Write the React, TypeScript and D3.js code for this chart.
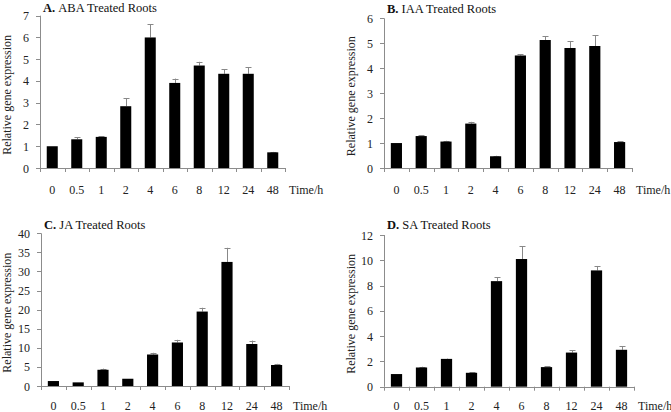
import React, { useEffect, useRef } from 'react';
import * as d3 from 'd3';

// time points (hours)
const times = ['0', '0.5', '1', '2', '4', '6', '8', '12', '24', '48'];

// A. ABA
const abaMean = [1.0, 1.32, 1.43, 2.84, 6.0, 3.91, 4.71, 4.33, 4.33, 0.72];
const abaErr = [0.0, 0.1, 0.04, 0.36, 0.6, 0.2, 0.17, 0.2, 0.3, 0.02];

// B. IAA
const iaaMean = [1.0, 1.28, 1.06, 1.78, 0.47, 4.51, 5.13, 4.81, 4.89, 1.04];
const iaaErr = [0.0, 0.04, 0.03, 0.07, 0.02, 0.04, 0.15, 0.27, 0.43, 0.03];

// C. JA
const jaMean = [1.3, 0.95, 4.25, 1.9, 8.25, 11.4, 19.5, 32.5, 11.0, 5.5];
const jaErr = [0.0, 0.0, 0.3, 0.0, 0.45, 0.7, 1.0, 3.7, 0.9, 0.3];

// D. SA
const saMean = [1.0, 1.52, 2.2, 1.1, 8.35, 10.1, 1.55, 2.7, 9.2, 2.92];
const saErr = [0.0, 0.06, 0.03, 0.06, 0.3, 1.0, 0.06, 0.18, 0.35, 0.3];

const panels = [
  { letter: 'A.', name: 'ABA Treated Roots', mean: abaMean, err: abaErr, yMax: 7, step: 1,
    left: 40, right: 285, top: 15.7, bottom: 168, titleY: 12, labelY: 194, ylabX: 7 },
  { letter: 'B.', name: 'IAA Treated Roots', mean: iaaMean, err: iaaErr, yMax: 6, step: 1,
    left: 384, right: 632, top: 18.3, bottom: 168, titleY: 13, labelY: 194, ylabX: 351 },
  { letter: 'C.', name: 'JA Treated Roots', mean: jaMean, err: jaErr, yMax: 40, step: 5,
    left: 41, right: 289, top: 233.3, bottom: 386, titleY: 229, labelY: 410, ylabX: 7 },
  { letter: 'D.', name: 'SA Treated Roots', mean: saMean, err: saErr, yMax: 12, step: 2,
    left: 384, right: 634, top: 235, bottom: 386.7, titleY: 229, labelY: 410, ylabX: 351 },
];

const font = 'Times New Roman, Liberation Serif, DejaVu Serif, serif';
const axisColor = '#8c8c8c';

function App() {
  const ref = useRef<SVGSVGElement>(null);

  useEffect(() => {
    const svg = d3.select(ref.current);
    svg.selectAll('*').remove();

    panels.forEach((p) => {
      const g = svg.append('g').style('font-family', font);
      const x = d3.scaleBand().domain(times).range([p.left, p.right]).paddingInner(0.55).paddingOuter(0.275);
      const y = d3.scaleLinear().domain([0, p.yMax]).range([p.bottom, p.top]);
      const data = times.map((t, i) => ({ t, v: p.mean[i], e: p.err[i] }));

      // y axis
      g.append('line')
        .attr('x1', p.left + 0.5).attr('x2', p.left + 0.5)
        .attr('y1', y(0)).attr('y2', y(p.yMax))
        .attr('stroke', axisColor);
      const yTicks = d3.range(0, p.yMax + p.step / 2, p.step);
      yTicks.forEach((v) => {
        g.append('line')
          .attr('x1', p.left - 4).attr('x2', p.left)
          .attr('y1', Math.round(y(v)) + 0.5).attr('y2', Math.round(y(v)) + 0.5)
          .attr('stroke', axisColor);
        g.append('text')
          .attr('x', p.left - 11).attr('y', y(v) + 4.5)
          .attr('text-anchor', 'end')
          .attr('font-size', 12).attr('fill', '#222')
          .text(v);
      });

      // x axis
      g.append('line')
        .attr('x1', p.left).attr('x2', p.right)
        .attr('y1', Math.round(y(0)) + 0.5).attr('y2', Math.round(y(0)) + 0.5)
        .attr('stroke', axisColor);
      const bounds = d3.range(times.length + 1).map((i) => p.left + i * x.step());
      bounds.forEach((bx) => {
        g.append('line')
          .attr('x1', Math.round(bx) + 0.5).attr('x2', Math.round(bx) + 0.5)
          .attr('y1', y(0)).attr('y2', y(0) + 4)
          .attr('stroke', axisColor);
      });
      times.forEach((t) => {
        g.append('text')
          .attr('x', (x(t) as number) + x.bandwidth() / 2).attr('y', p.labelY)
          .attr('text-anchor', 'middle')
          .attr('font-size', 12).attr('fill', '#222')
          .text(t);
      });
      g.append('text')
        .attr('x', p.right + 4).attr('y', p.labelY)
        .attr('font-size', 12).attr('fill', '#222')
        .text('Time/h');

      // error bars
      data.filter((d) => d.e > 0).forEach((d) => {
        const cx = Math.round((x(d.t) as number) + x.bandwidth() / 2) + 0.5;
        g.append('line')
          .attr('x1', cx).attr('x2', cx)
          .attr('y1', y(d.v)).attr('y2', y(d.v + d.e))
          .attr('stroke', '#888');
        g.append('line')
          .attr('x1', cx - 3).attr('x2', cx + 3)
          .attr('y1', Math.round(y(d.v + d.e)) + 0.5).attr('y2', Math.round(y(d.v + d.e)) + 0.5)
          .attr('stroke', '#888');
      });

      // bars
      g.selectAll('rect')
        .data(data)
        .enter()
        .append('rect')
        .attr('x', (d) => x(d.t) as number)
        .attr('y', (d) => y(d.v))
        .attr('width', x.bandwidth())
        .attr('height', (d) => y(0) - y(d.v))
        .attr('fill', '#000');

      // title
      const title = g.append('text')
        .attr('x', p.left + 3).attr('y', p.titleY)
        .attr('font-size', 12.5).attr('fill', '#111');
      title.append('tspan').attr('font-weight', 'bold').text(p.letter + ' ');
      title.append('tspan').text(p.name);

      // y label
      g.append('text')
        .attr('transform', `translate(${p.ylabX + 4},${(p.top + p.bottom) / 2 + 3}) rotate(-90)`)
        .attr('text-anchor', 'middle')
        .attr('font-size', 12).attr('fill', '#222')
        .text('Relative gene expression');
    });
  }, []);

  return (
    <svg
      ref={ref}
      width={671}
      height={412}
      style={{ position: 'absolute', left: 0, top: 0, background: '#fff' }}
    />
  );
}

export default App;
